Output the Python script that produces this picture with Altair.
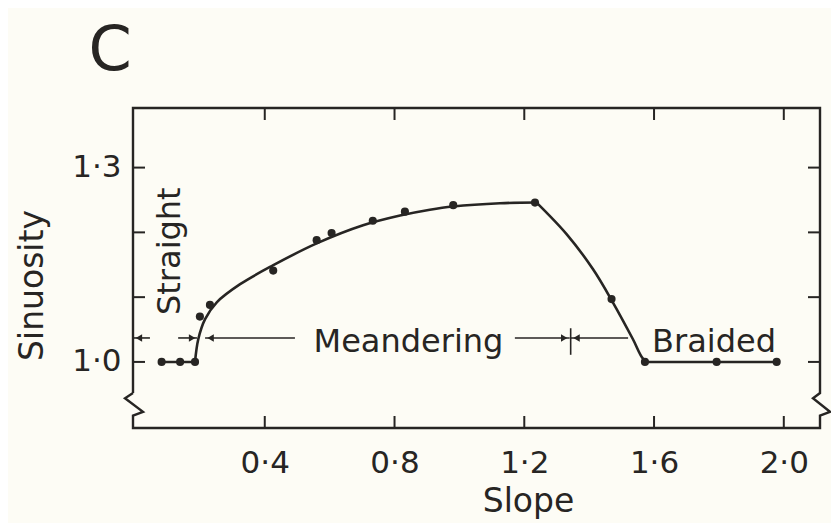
import altair as alt
import pandas as pd

# ---------------- data ----------------
pt_slope = [0.082, 0.139, 0.185, 0.200, 0.231, 0.426, 0.560, 0.606, 0.733,
            0.832, 0.981, 1.233, 1.469, 1.572, 1.793, 1.978]
pt_sinuosity = [1.000, 1.000, 1.000, 1.070, 1.088, 1.141, 1.188, 1.199, 1.218,
                1.232, 1.242, 1.246, 1.097, 1.000, 1.000, 1.000]

# fitted curve, in pieces (straight / rising / falling / braided plateau)
curve_piece = ["a", "a", "a",
               "b", "b", "b", "b", "b", "b", "b", "b", "b", "b", "b", "b", "b",
               "c", "c", "c", "c", "c", "c", "c",
               "d", "d", "d"]
curve_slope = [0.082, 0.139, 0.185,
               0.185, 0.195, 0.216, 0.252, 0.324, 0.425, 0.560, 0.703, 0.817, 0.909, 0.980, 1.125, 1.238,
               1.238, 1.331, 1.412, 1.473, 1.535, 1.566, 1.582,
               1.582, 1.793, 1.978]
curve_sinuosity = [1.000, 1.000, 1.000,
                   1.000, 1.035, 1.066, 1.092, 1.120, 1.149, 1.183, 1.211, 1.226, 1.235, 1.240, 1.245, 1.246,
                   1.246, 1.197, 1.143, 1.092, 1.035, 1.005, 1.000,
                   1.000, 1.000, 1.000]

x_ticks = [0.4, 0.8, 1.2, 1.6, 2.0]
y_ticks = [1.0, 1.1, 1.2, 1.3]
y_labelled = [1.0, 1.3]

# frame outline with axis-break zigzags (data units)
frame_x = [-0.0062, -0.0062, 2.1116, 2.1116, 2.0900, 2.1424, 2.1116, 2.1116,
           -0.0062, -0.0062, 0.0247, -0.0308, -0.0062]
frame_y = [0.952, 1.392, 1.392, 0.952, 0.944, 0.923, 0.917, 0.898,
           0.898, 0.917, 0.923, 0.944, 0.952]

# regime arrows
arrow_y = 1.037
seg_start = [-0.0062, 0.133, 0.216, 1.171, 1.343]
seg_end = [0.046, 0.191, 0.493, 1.340, 1.520]
head_x = [0.012, 0.176, 0.233, 1.323, 1.361]
head_shape = ["triangle-left", "triangle-right", "triangle-left",
              "triangle-right", "triangle-left"]
divider_x = [1.343]
divider_y1 = [1.011]
divider_y2 = [1.052]

labels_text = ["Meandering", "Braided"]
labels_x = [0.843, 1.785]
labels_y = [1.0154, 1.0154]

# ---------------- styling ----------------
W, H = 687, 320
XDOM = [-0.0062, 2.1116]
YDOM = [0.898, 1.392]
INK = "#272523"
PAPER = "#fdfcf5"
FONT = "DejaVu Sans"

xs = alt.Scale(domain=XDOM, nice=False, zero=False)
ys = alt.Scale(domain=YDOM, nice=False, zero=False)

pts = pd.DataFrame({"slope": pt_slope, "sinuosity": pt_sinuosity})
crv = pd.DataFrame({"slope": curve_slope, "sinuosity": curve_sinuosity, "piece": curve_piece})
frm = pd.DataFrame({"slope": frame_x, "sinuosity": frame_y, "o": list(range(len(frame_x)))})
xt = pd.DataFrame({"slope": x_ticks})
yt = pd.DataFrame({"sinuosity": y_ticks})
segs = pd.DataFrame({"slope": seg_start, "x2": seg_end, "sinuosity": [arrow_y] * len(seg_start)})
heads = pd.DataFrame({"slope": head_x, "shape": head_shape, "sinuosity": [arrow_y] * len(head_x)})
div = pd.DataFrame({"slope": divider_x, "sinuosity": divider_y1, "y2": divider_y2})
lab = pd.DataFrame({"t": labels_text, "slope": labels_x, "sinuosity": labels_y})

x_axis = alt.Axis(values=x_ticks, format=".1f", labelExpr="replace(datum.label, '.', '·')",
                  title="Slope", domain=False, ticks=False, grid=False,
                  labelPadding=20, labelFontSize=31, labelFont=FONT, labelColor=INK,
                  titleFontSize=33, titleFont=FONT, titleColor=INK, titleFontWeight="normal",
                  titleX=395, titleY=83, titleBaseline="alphabetic", titleAlign="center")
y_axis = alt.Axis(values=y_labelled, format=".1f", labelExpr="replace(datum.label, '.', '·')",
                  title="Sinuosity", domain=False, ticks=False, grid=False,
                  labelPadding=12, labelFontSize=31, labelFont=FONT, labelColor=INK,
                  titleFontSize=33, titleFont=FONT, titleColor=INK, titleFontWeight="normal",
                  titleAngle=270, titleX=-91, titleY=177, titleBaseline="alphabetic",
                  titleAlign="center")

X = alt.X("slope:Q", scale=xs, axis=x_axis)
Y = alt.Y("sinuosity:Q", scale=ys, axis=y_axis)

frame = alt.Chart(frm).mark_line(color=INK, strokeWidth=2.4, strokeJoin="miter").encode(
    x=X, y=Y, order="o:Q")

curve = alt.Chart(crv).mark_line(color=INK, strokeWidth=2.6, interpolate="catmull-rom").encode(
    x=X, y=Y, detail="piece:N")

points = alt.Chart(pts).mark_circle(color=INK, size=66, opacity=1).encode(x=X, y=Y)

tick_len = 12
xt_bottom = alt.Chart(xt).mark_rule(color=INK, strokeWidth=2).encode(
    x=X, y=alt.value(H), y2=alt.value(H - tick_len))
xt_top = alt.Chart(xt).mark_rule(color=INK, strokeWidth=2).encode(
    x=X, y=alt.value(0), y2=alt.value(tick_len))
yt_left = alt.Chart(yt).mark_rule(color=INK, strokeWidth=2).encode(
    y=Y, x=alt.value(0), x2=alt.value(tick_len))
yt_right = alt.Chart(yt).mark_rule(color=INK, strokeWidth=2).encode(
    y=Y, x=alt.value(W), x2=alt.value(W - tick_len))

arrows = alt.Chart(segs).mark_rule(color=INK, strokeWidth=1.6).encode(x=X, x2="x2:Q", y=Y)

arrowheads = alt.Chart(heads).mark_point(filled=True, color=INK, size=55, opacity=1).encode(
    x=X, y=Y, shape=alt.Shape("shape:N", scale=None))

divider = alt.Chart(div).mark_rule(color=INK, strokeWidth=1.6).encode(x=X, y=Y, y2="y2:Q")

regime_text = alt.Chart(lab).mark_text(font=FONT, fontSize=32, color=INK, align="center",
                                       baseline="alphabetic").encode(x=X, y=Y, text="t:N")

straight = alt.Chart(pd.DataFrame({"t": ["Straight"], "slope": [0.139], "sinuosity": [1.171]})).mark_text(
    font=FONT, fontSize=32, color=INK, align="center", baseline="alphabetic", angle=270).encode(
    x=X, y=Y, text="t:N")

panel = alt.Chart(pd.DataFrame({"t": ["C"], "slope": [-0.077], "sinuosity": [1.480]})).mark_text(
    font=FONT, fontSize=62, color=INK, align="center", baseline="middle").encode(
    x=X, y=Y, text="t:N")

chart = alt.layer(
    frame, xt_bottom, xt_top, yt_left, yt_right, curve, points,
    arrows, arrowheads, divider, regime_text, straight, panel,
).properties(
    width=W, height=H,
    autosize=alt.AutoSizeParams(type="none"),
    padding={"left": 125, "top": 100, "right": 11, "bottom": 95},
    background=PAPER,
).configure_view(stroke=None)

chart.save("out.html", embed_options={"renderer": "svg", "actions": False})
